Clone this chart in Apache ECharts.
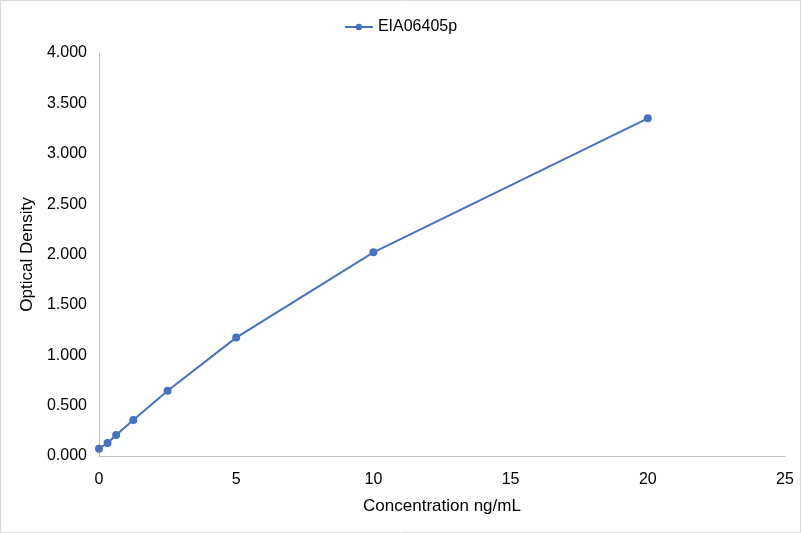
<!DOCTYPE html>
<html><head><meta charset="utf-8">
<script src="https://cdn.jsdelivr.net/npm/echarts@6/dist/echarts.min.js"></script>
<style>html,body{margin:0;padding:0;background:#fff}#c{width:801px;height:533px}</style>
</head><body><div id="c"></div>
<script>
var seriesName = 'EIA06405p';
var concentrations = [0, 0.3125, 0.625, 1.25, 2.5, 5, 10, 20];
var odValues = [0.072, 0.129, 0.208, 0.357, 0.648, 1.175, 2.022, 3.352];
var xTitle = 'Concentration ng/mL';
var yTitle = 'Optical Density';

var chart = echarts.init(document.getElementById('c'));
var font = 'Arial, "Liberation Sans", sans-serif';
chart.setOption({
  animation: false,
  graphic: [{
    type: 'rect', silent: true, z: -10,
    shape: {x: 0.5, y: 0.5, width: 800, height: 532},
    style: {fill: 'none', stroke: '#d9d9d9', lineWidth: 1}
  }],
  legend: {
    top: 14, left: 'center',
    itemWidth: 28, itemHeight: 8, itemGap: 10,
    textStyle: {fontFamily: font, fontSize: 16, color: '#000'},
    data: [seriesName]
  },
  grid: {left: 99, right: 16, top: 53, bottom: 77, containLabel: false},
  xAxis: {
    type: 'value', min: 0, max: 25, interval: 5,
    name: xTitle, nameLocation: 'middle', nameGap: 42,
    nameTextStyle: {fontFamily: font, fontSize: 17, color: '#000'},
    axisLine: {show: true, lineStyle: {color: '#bfbfbf'}},
    axisTick: {show: false},
    splitLine: {show: false},
    axisLabel: {fontFamily: font, fontSize: 16, color: '#000', margin: 16}
  },
  yAxis: {
    type: 'value', min: 0, max: 4, interval: 0.5,
    name: yTitle, nameLocation: 'middle', nameGap: 59,
    nameTextStyle: {fontFamily: font, fontSize: 17, color: '#000'},
    axisLine: {show: true, lineStyle: {color: '#bfbfbf'}},
    axisTick: {show: false},
    splitLine: {show: false},
    axisLabel: {fontFamily: font, fontSize: 16, color: '#000', margin: 12,
      formatter: function(v){return v.toFixed(3);}}
  },
  series: [{
    name: seriesName, type: 'line',
    data: concentrations.map(function(x,i){return [x, odValues[i]];}),
    symbol: 'circle', symbolSize: 8,
    itemStyle: {color: '#4472c4'},
    lineStyle: {color: '#4472c4', width: 2}
  }]
});
</script></body></html>
